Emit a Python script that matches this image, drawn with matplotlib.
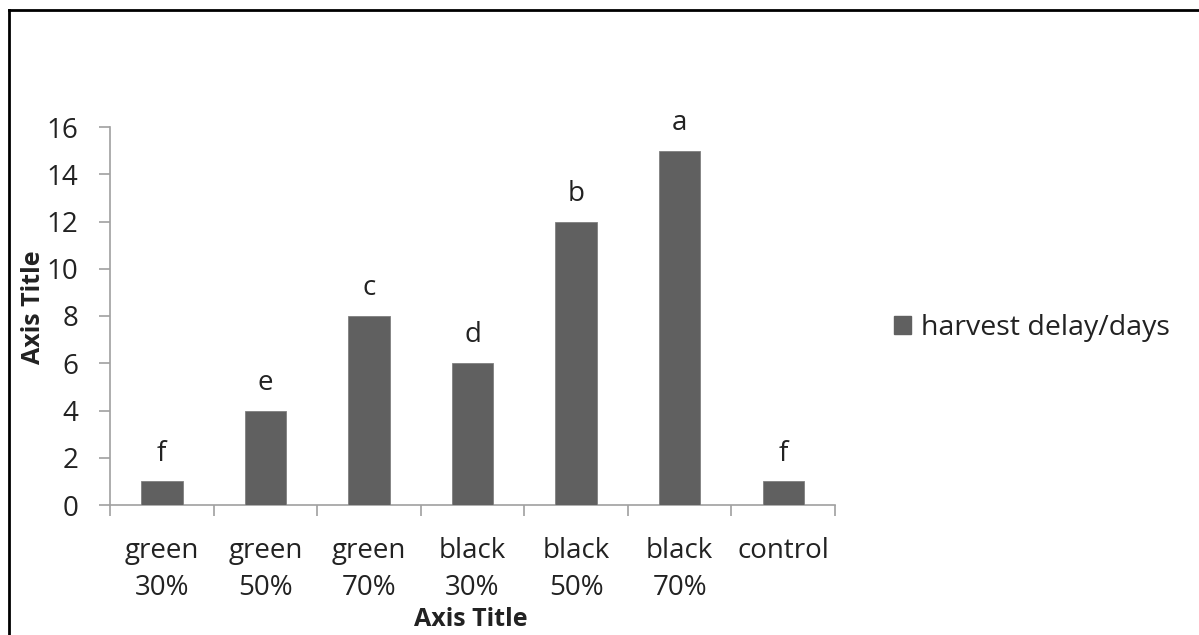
import matplotlib
matplotlib.use("Agg")
import matplotlib.pyplot as plt
from matplotlib.lines import Line2D
from matplotlib.patches import Patch

categories = ["green\n30%", "green\n50%", "green\n70%", "black\n30%",
              "black\n50%", "black\n70%", "control"]
harvest_delay = [1, 4, 8, 6, 12, 15, 1]
letters = ["f", "e", "c", "d", "b", "a", "f"]
y_ticks = [0, 2, 4, 6, 8, 10, 12, 14, 16]
series_name = "harvest delay/days"

plt.rcParams["font.family"] = ["Open Sans", "DejaVu Sans"]

W, H = 1199, 635
fig = plt.figure(figsize=(W / 100, H / 100), dpi=100)
ax = fig.add_axes([110 / W, (H - 505) / H, 725 / W, 378 / H])
ax_h = 378

bar_color = "#606060"
axis_color = "#a0a0a0"
text_color = "#222222"
fs = 20

x = list(range(len(categories)))
ax.bar(x, harvest_delay, width=0.4, color=bar_color, edgecolor="#808080",
       linewidth=0.6, zorder=3)
for xi, v, lab in zip(x, harvest_delay, letters):
    ax.annotate(lab, (xi, v), xytext=(0, 20), textcoords="offset points",
                ha="center", va="center", fontsize=fs, color=text_color)

ax.set_xlim(-0.5, len(categories) - 0.5)
ax.set_ylim(0, 16)
ax.set_yticks(y_ticks)
ax.tick_params(axis="y", length=8, width=1.2, color=axis_color,
               labelsize=fs, labelcolor=text_color, pad=15)
ax.set_xticks(x)
ax.set_xticklabels(categories, fontsize=fs, color=text_color, linespacing=1.42)
ax.tick_params(axis="x", length=0, pad=23)
# category boundary ticks
ax.set_xticks([i - 0.5 for i in range(len(categories) + 1)], minor=True)
ax.tick_params(axis="x", which="minor", length=8, width=1.2, color=axis_color)

for s in ("top", "right"):
    ax.spines[s].set_visible(False)
for s in ("left", "bottom"):
    ax.spines[s].set_color(axis_color)
    ax.spines[s].set_linewidth(1.2)

ax.set_xlabel("Axis Title", fontsize=18, fontweight="bold", color=text_color,
              va="center")
ax.set_ylabel("Axis Title", fontsize=18, fontweight="bold", color=text_color,
              va="center")
ax.xaxis.set_label_coords((471 - 110) / 725, (505 - 620) / ax_h)
ax.yaxis.set_label_coords((33 - 110) / 725, (505 - 307) / ax_h)

fig.legend(handles=[Patch(facecolor=bar_color, edgecolor=bar_color)],
           labels=[series_name], loc="center left",
           bbox_to_anchor=(868 / W, 1 - 328 / H), frameon=False,
           fontsize=20.5, handlelength=0.6, handleheight=0.6,
           handletextpad=0.35, labelcolor=text_color)

# outer chart frame
fig.add_artist(Line2D([9 / W, 9 / W], [0, 1 - 10 / H], transform=fig.transFigure,
                      color="black", linewidth=2))
fig.add_artist(Line2D([9 / W, 1], [1 - 10 / H, 1 - 10 / H], transform=fig.transFigure,
                      color="black", linewidth=2))

fig.savefig("out.png", dpi=100)
